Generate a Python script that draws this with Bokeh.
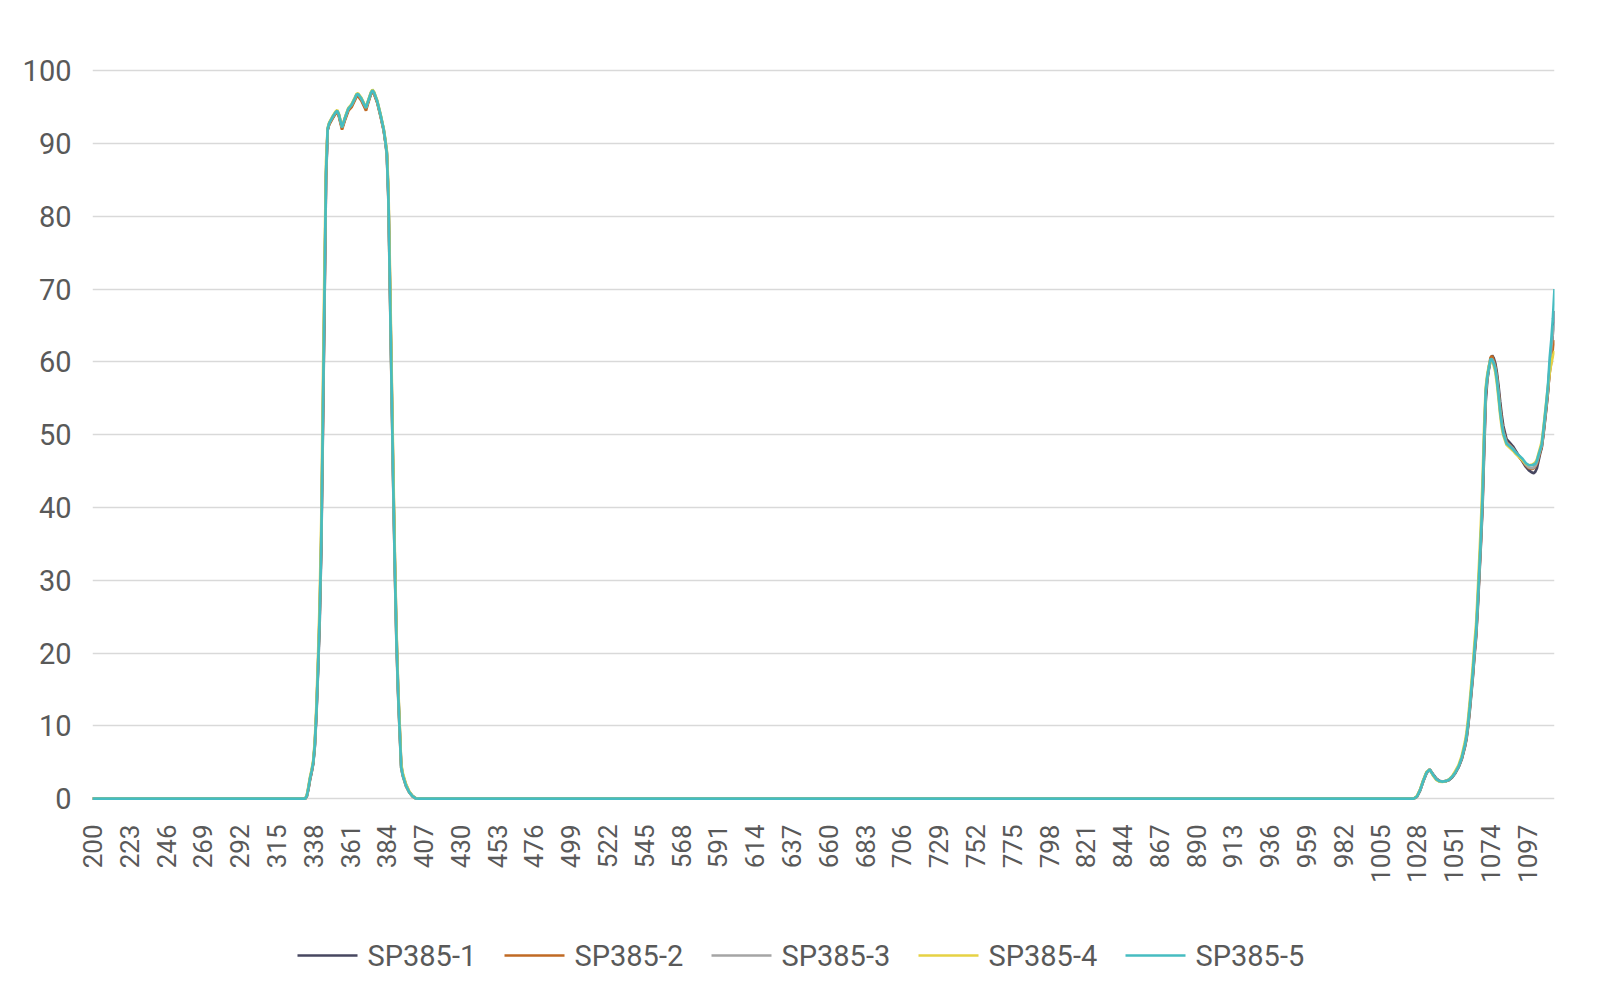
import numpy as np
from bokeh.plotting import figure
from bokeh.layouts import column
from bokeh.models import Range1d, FixedTicker
from bokeh.core.properties import value
from bokeh.embed import file_html
from bokeh.resources import INLINE

# ---------------- data ----------------
wavelength = [
    200, 333, 334, 335, 336, 337, 338, 339, 340, 341, 342, 343, 344, 345, 346, 347, 348,
    350, 352, 353, 354, 356, 358, 360, 362, 364, 365, 366, 368, 370, 371, 372, 374, 375,
    376, 378, 380, 382, 383, 384,
    385, 386, 387, 388, 389, 390, 391, 392, 393, 394,
    396, 398, 400, 402, 404,
    1026, 1028, 1030, 1032, 1034, 1036, 1038, 1040, 1042, 1044, 1046, 1048, 1050, 1052, 1054, 1056,
    1058,
    1059, 1060, 1061, 1062, 1063, 1064, 1065, 1066, 1067, 1068, 1069, 1070, 1071, 1072, 1073, 1074,
    1075, 1076, 1077, 1078, 1079, 1080, 1081, 1082,
    1084, 1086, 1088, 1090, 1092, 1094, 1096, 1098, 1100,
    1101, 1102, 1103, 1104, 1105, 1106, 1107, 1108, 1109, 1110, 1111, 1112, 1113, 1114,
]

sp385_1 = [
    0, 0, 0.3, 1.3, 2.6, 3.6, 4.8, 7.2, 11.5, 17.5, 24, 34, 50, 67, 85, 91.8, 92.7,
    93.5, 94.2, 94.4, 93.9, 92.1, 93.5, 94.7, 95.2, 96.1, 96.6, 96.7, 96.1, 95.2, 94.8, 95.5, 96.8, 97.2,
    96.9, 95.7, 93.9, 91.9, 90.4, 88.8,
    83, 70.5, 57.5, 44.5, 33, 23, 15.5, 10, 4.6, 3.3,
    1.9, 0.95, 0.4, 0.08, 0,
    0, 0.25, 1.1, 2.4, 3.5, 4.0, 3.4, 2.8, 2.45, 2.35, 2.4, 2.55, 2.9, 3.5, 4.3, 5.4,
    7.1,
    8.2, 9.9, 12.0, 14.4, 16.8, 19.7, 22.2, 26.0, 30.5, 35.0, 40.0, 47.5, 54.5, 57.5, 59.0, 60.2,
    60.9, 60.5, 59.8, 58.5, 56.7, 54.6, 52.7, 51.2,
    49.4, 48.9, 48.4, 47.7, 47.0, 46.3, 45.6, 45.1, 44.8,
    44.7, 44.9, 45.4, 46.4, 47.4, 48.2, 49.8, 51.8, 53.8, 56.0, 59.2, 61.5, 64.0, 67.0,
]

sp385_2 = [
    0, 0, 0.4, 1.4, 2.7, 3.7, 4.9, 7.4, 12, 18, 25, 35, 51, 68, 85.5, 91.9, 92.6,
    93.4, 94.1, 94.3, 93.7, 91.9, 93.3, 94.5, 95.0, 95.9, 96.4, 96.5, 95.9, 95.0, 94.5, 95.3, 96.7, 97.1,
    96.8, 95.6, 93.8, 91.8, 90.3, 88.4,
    82, 69, 56, 43, 31.5, 21.5, 14.5, 9.2, 4.2, 3.1,
    1.7, 0.85, 0.3, 0.05, 0,
    0, 0.3, 1.2, 2.5, 3.6, 4.0, 3.3, 2.7, 2.4, 2.35, 2.4, 2.6, 3.0, 3.6, 4.4, 5.5,
    7.2,
    8.4, 10.1, 12.3, 14.7, 17.1, 20.0, 22.6, 26.5, 31.0, 35.5, 40.8, 48.5, 55.5, 57.8, 59.3, 60.6,
    60.8, 60.2, 59.4, 58.0, 56.0, 53.8, 52.0, 50.6,
    49.0, 48.6, 48.1, 47.5, 46.9, 46.4, 45.8, 45.4, 45.3,
    45.4, 45.6, 46.0, 46.8, 47.6, 48.3, 50.0, 52.0, 54.0, 56.2, 58.5, 60.0, 61.8, 63.0,
]

sp385_3 = [
    0, 0, 0.4, 1.5, 2.8, 3.8, 5.0, 7.6, 12.2, 18.3, 25.5, 35.5, 52.5, 69.5, 86, 92.0, 92.8,
    93.6, 94.3, 94.5, 94.0, 92.2, 93.6, 94.8, 95.3, 96.2, 96.7, 96.8, 96.2, 95.3, 94.9, 95.6, 96.9, 97.3,
    97.0, 95.8, 94.0, 92.0, 90.5, 88.6,
    82.5, 69.5, 56.5, 43.5, 32, 22, 15, 9.5, 4.3, 3.2,
    1.8, 0.9, 0.35, 0.05, 0,
    0, 0.3, 1.2, 2.5, 3.6, 4.0, 3.3, 2.7, 2.4, 2.35, 2.4, 2.6, 3.0, 3.6, 4.4, 5.6,
    7.3,
    8.5, 10.3, 12.5, 14.9, 17.3, 20.3, 22.8, 26.8, 31.2, 35.8, 41.2, 49.0, 55.8, 57.9, 59.2, 60.3,
    60.4, 59.9, 59.1, 57.7, 55.7, 53.4, 51.7, 50.4,
    48.9, 48.5, 48.1, 47.5, 47.0, 46.5, 45.9, 45.5, 45.4,
    45.5, 45.7, 46.2, 47.0, 47.8, 48.5, 50.2, 52.2, 54.3, 56.5, 59.5, 62.0, 64.0, 65.0,
]

sp385_4 = [
    0, 0, 0.5, 1.7, 3.0, 4.0, 5.3, 8.0, 13, 19.5, 27, 38, 56, 73, 87.5, 92.1, 92.9,
    93.7, 94.4, 94.6, 94.1, 92.3, 93.7, 94.9, 95.4, 96.3, 96.8, 96.9, 96.3, 95.4, 95.0, 95.7, 97.0, 97.4,
    97.1, 95.9, 94.1, 92.1, 90.7, 89.0,
    84, 72, 59, 46, 34, 23.5, 16, 10.5, 4.8, 3.5,
    2.0, 1.0, 0.4, 0.08, 0,
    0, 0.35, 1.3, 2.6, 3.7, 4.0, 3.2, 2.6, 2.35, 2.3, 2.4, 2.65, 3.1, 3.8, 4.6, 5.9,
    7.8,
    9.1, 11.0, 13.3, 15.8, 18.4, 21.5, 24.0, 28.3, 33.0, 37.8, 43.5, 51.0, 56.5, 58.3, 59.5, 60.3,
    60.1, 59.5, 58.6, 57.0, 55.0, 52.8, 51.0, 49.9,
    48.6, 48.2, 47.8, 47.3, 46.9, 46.5, 46.0, 45.8, 45.9,
    46.0, 46.2, 46.6, 47.4, 48.2, 49.0, 50.8, 52.8, 54.8, 56.8, 58.5, 59.8, 60.8, 61.5,
]

sp385_5 = [
    0, 0, 0.4, 1.5, 2.8, 3.8, 5.0, 7.5, 12, 18, 25, 35, 52, 69, 86, 92.0, 92.8,
    93.6, 94.3, 94.5, 94.0, 92.2, 93.6, 94.8, 95.3, 96.2, 96.7, 96.8, 96.2, 95.3, 94.9, 95.6, 96.9, 97.3,
    97.0, 95.8, 94.0, 92.0, 90.5, 88.6,
    82.5, 69.5, 56.5, 43.5, 32, 22, 15, 9.5, 4.3, 3.2,
    1.8, 0.9, 0.35, 0.05, 0,
    0, 0.3, 1.2, 2.5, 3.6, 4.0, 3.3, 2.7, 2.4, 2.35, 2.4, 2.6, 3.0, 3.6, 4.4, 5.6,
    7.4,
    8.6, 10.4, 12.6, 15.0, 17.5, 20.5, 23.0, 27.0, 31.5, 36.0, 41.5, 49.5, 56.0, 58.0, 59.3, 60.4,
    60.3, 59.8, 59.0, 57.5, 55.5, 53.2, 51.5, 50.2,
    48.8, 48.4, 48.0, 47.5, 47.1, 46.7, 46.1, 45.8, 45.8,
    45.9, 46.0, 46.4, 47.2, 47.9, 48.6, 50.5, 52.5, 54.6, 57.0, 60.5, 63.0, 66.0, 70.0,
]

series_names = ["SP385-1", "SP385-2", "SP385-3", "SP385-4", "SP385-5"]
series_values = [sp385_1, sp385_2, sp385_3, sp385_4, sp385_5]
series_colors = ["#474760", "#C06A24", "#A5A5A5", "#E6D244", "#46BCC1"]

x_tick_labels = [200, 223, 246, 269, 292, 315, 338, 361, 384, 407, 430, 453, 476, 499,
                 522, 545, 568, 591, 614, 637, 660, 683, 706, 729, 752, 775, 798, 821,
                 844, 867, 890, 913, 936, 959, 982, 1005, 1028, 1051, 1074, 1097]
y_tick_labels = [0, 10, 20, 30, 40, 50, 60, 70, 80, 90, 100]

for s in series_values:
    assert len(s) == len(wavelength), (len(s), len(wavelength))

# ---------------- chart ----------------
TEXT = "#595959"
FONT = "Roboto"
W = 1610
H_CHART = 900
H_LEG = 96
FRAME_L, FRAME_R = 92, 1554

p = figure(width=W, height=H_CHART,
           x_range=Range1d(200, 1114), y_range=Range1d(-0.25, 100.3),
           output_backend="svg", toolbar_location=None,
           min_border_left=FRAME_L, min_border_right=W - FRAME_R,
           min_border_top=68, min_border_bottom=100)
p.outline_line_color = None
p.background_fill_color = "white"
p.border_fill_color = "white"

for name, vals, col in zip(series_names, series_values, series_colors):
    p.line(wavelength, vals, line_color=col, line_width=2.7)

xt = FixedTicker(ticks=x_tick_labels)
yt = FixedTicker(ticks=y_tick_labels)
p.xaxis.ticker = xt
p.yaxis.ticker = yt
p.ygrid.ticker = yt
p.xgrid.visible = False
p.ygrid.grid_line_color = "#D9D9D9"
p.ygrid.grid_line_width = 1.3

for ax in (p.xaxis[0], p.yaxis[0]):
    ax.axis_line_color = None
    ax.major_tick_line_color = None
    ax.minor_tick_line_color = None
    ax.major_label_text_color = TEXT
    ax.major_label_text_font = FONT

p.xaxis.major_label_orientation = np.pi / 2
p.xaxis.major_label_text_font_size = "26px"
p.xaxis.major_label_standoff = 18
p.yaxis.major_label_text_font_size = "29px"
p.yaxis.major_label_standoff = 15

# ---------------- legend strip (pixel units; its frame is aligned with the chart frame) ----------------
lg = figure(width=W, height=H_LEG, x_range=Range1d(FRAME_L, FRAME_R), y_range=Range1d(0, H_LEG),
            output_backend="svg", toolbar_location=None,
            x_axis_location=None, y_axis_location=None,
            min_border_left=FRAME_L, min_border_right=W - FRAME_R,
            min_border_top=0, min_border_bottom=0)
lg.outline_line_color = None
lg.xgrid.visible = False
lg.ygrid.visible = False
lg.border_fill_color = "white"
lg.background_fill_color = "white"

LEG_X0, LEG_STEP, LEG_Y = 297, 207, 41
SAMPLE_W, GAP = 60, 10
for i, (name, col) in enumerate(zip(series_names, series_colors)):
    x0 = LEG_X0 + i * LEG_STEP
    lg.line([x0, x0 + SAMPLE_W], [LEG_Y, LEG_Y], line_color=col, line_width=2.7)
    lg.text(x=[x0 + SAMPLE_W + GAP], y=[LEG_Y], text=[name],
            text_font=value(FONT), text_font_size="29px", text_color=TEXT,
            text_align="left", text_baseline="middle")

layout = column(p, lg, spacing=0)
open("out.html", "w").write(file_html(layout, INLINE))
